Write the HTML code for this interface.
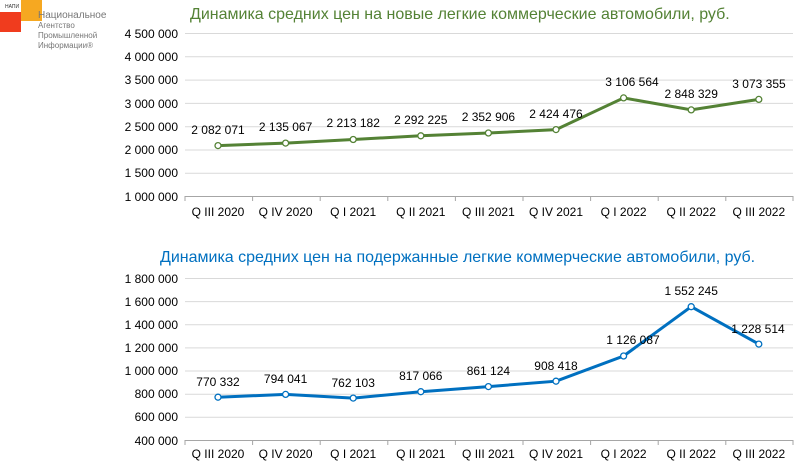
<!DOCTYPE html><html><head><meta charset="utf-8"><style>body{margin:0;background:#fff}svg{display:block}text{font-family:"Liberation Sans",sans-serif}</style></head><body>
<svg width="805" height="474" viewBox="0 0 805 474">
<rect x="0" y="12" width="21" height="20" fill="#f03c1e"/><rect x="21" y="0" width="21" height="21" fill="#f6a821"/>
<text x="5" y="8" font-size="5" fill="#333">НАПИ</text>
<g font-size="8" fill="#777"><text x="38" y="18" font-size="10">Национальное</text><text x="38" y="28">Агентство</text><text x="38" y="38">Промышленной</text><text x="38" y="48">Информации®</text></g>
<text x="190" y="19" font-size="16" fill="#548235">Динамика средних цен на новые легкие коммерческие автомобили, руб.</text>
<g stroke="#d9d9d9" stroke-width="1">
<line x1="185" x2="793" y1="33.5" y2="33.5"/><line x1="185" x2="793" y1="56.8" y2="56.8"/><line x1="185" x2="793" y1="80.1" y2="80.1"/><line x1="185" x2="793" y1="103.4" y2="103.4"/><line x1="185" x2="793" y1="126.7" y2="126.7"/><line x1="185" x2="793" y1="150" y2="150"/><line x1="185" x2="793" y1="173.2" y2="173.2"/>
<line x1="185" x2="793" y1="278.5" y2="278.5"/><line x1="185" x2="793" y1="301.6" y2="301.6"/><line x1="185" x2="793" y1="324.8" y2="324.8"/><line x1="185" x2="793" y1="347.9" y2="347.9"/><line x1="185" x2="793" y1="371" y2="371"/><line x1="185" x2="793" y1="394.2" y2="394.2"/><line x1="185" x2="793" y1="417.3" y2="417.3"/>
</g>
<g stroke="#a6a6a6"><line x1="185" x2="793" y1="196.5" y2="196.5"/><line x1="185" x2="793" y1="440.5" y2="440.5"/>
<path d="M185 196v5M252.6 196v5M320.2 196v5M387.8 196v5M455.4 196v5M523 196v5M590.6 196v5M658.2 196v5M725.8 196v5M793 196v5M185 440v5M252.6 440v5M320.2 440v5M387.8 440v5M455.4 440v5M523 440v5M590.6 440v5M658.2 440v5M725.8 440v5M793 440v5"/></g>
<g font-size="12" fill="#000" text-anchor="end">
<text x="178" y="38">4 500 000</text><text x="178" y="61">4 000 000</text><text x="178" y="84">3 500 000</text><text x="178" y="108">3 000 000</text><text x="178" y="131">2 500 000</text><text x="178" y="154">2 000 000</text><text x="178" y="177">1 500 000</text><text x="178" y="201">1 000 000</text>
<text x="178" y="283">1 800 000</text><text x="178" y="306">1 600 000</text><text x="178" y="329">1 400 000</text><text x="178" y="352">1 200 000</text><text x="178" y="375">1 000 000</text><text x="178" y="398">800 000</text><text x="178" y="421">600 000</text><text x="178" y="445">400 000</text>
</g>
<g font-size="12" text-anchor="middle">
<text x="218" y="216">Q III 2020</text><text x="285.6" y="216">Q IV 2020</text><text x="353.2" y="216">Q I 2021</text><text x="420.8" y="216">Q II 2021</text><text x="488.4" y="216">Q III 2021</text><text x="556" y="216">Q IV 2021</text><text x="623.6" y="216">Q I 2022</text><text x="691.2" y="216">Q II 2022</text><text x="758.8" y="216">Q III 2022</text>
<text x="218" y="458">Q III 2020</text><text x="285.6" y="458">Q IV 2020</text><text x="353.2" y="458">Q I 2021</text><text x="420.8" y="458">Q II 2021</text><text x="488.4" y="458">Q III 2021</text><text x="556" y="458">Q IV 2021</text><text x="623.6" y="458">Q I 2022</text><text x="691.2" y="458">Q II 2022</text><text x="758.8" y="458">Q III 2022</text>
</g>
<polyline fill="none" stroke="#548235" stroke-width="3" points="218,145.6 285.6,143.1 353.2,139.5 420.8,135.8 488.4,133 556,129.6 623.6,97.9 691.2,109.9 758.8,99.4"/>
<g fill="#fff" stroke="#548235" stroke-width="1.3"><circle cx="218" cy="145.6" r="3"/><circle cx="285.6" cy="143.1" r="3"/><circle cx="353.2" cy="139.5" r="3"/><circle cx="420.8" cy="135.8" r="3"/><circle cx="488.4" cy="133" r="3"/><circle cx="556" cy="129.6" r="3"/><circle cx="623.6" cy="97.9" r="3"/><circle cx="691.2" cy="109.9" r="3"/><circle cx="758.8" cy="99.4" r="3"/></g>
<g font-size="12" text-anchor="middle">
<text x="218" y="134">2 082 071</text><text x="285.6" y="131">2 135 067</text><text x="353.2" y="127">2 213 182</text><text x="420.8" y="124">2 292 225</text><text x="488.4" y="121">2 352 906</text><text x="556" y="118">2 424 476</text><text x="632" y="86">3 106 564</text><text x="691.2" y="98">2 848 329</text><text x="759" y="88">3 073 355</text>
</g>
<text x="160" y="262" font-size="16" fill="#0070c0">Динамика средних цен на подержанные легкие коммерческие автомобили, руб.</text>
<polyline fill="none" stroke="#0070c0" stroke-width="3" points="218,397.2 285.6,394.4 353.2,398.1 420.8,391.7 488.4,386.6 556,381.2 623.6,356 691.2,306.7 758.8,344.1"/>
<g fill="#fff" stroke="#0070c0" stroke-width="1.3"><circle cx="218" cy="397.2" r="3"/><circle cx="285.6" cy="394.4" r="3"/><circle cx="353.2" cy="398.1" r="3"/><circle cx="420.8" cy="391.7" r="3"/><circle cx="488.4" cy="386.6" r="3"/><circle cx="556" cy="381.2" r="3"/><circle cx="623.6" cy="356" r="3"/><circle cx="691.2" cy="306.7" r="3"/><circle cx="758.8" cy="344.1" r="3"/></g>
<g font-size="12" text-anchor="middle">
<text x="218" y="386">770 332</text><text x="285.6" y="383">794 041</text><text x="353.2" y="387">762 103</text><text x="420.8" y="380">817 066</text><text x="488.4" y="375">861 124</text><text x="556" y="370">908 418</text><text x="633" y="344">1 126 087</text><text x="691.2" y="295">1 552 245</text><text x="758" y="333">1 228 514</text>
</g>
</svg></body></html>
